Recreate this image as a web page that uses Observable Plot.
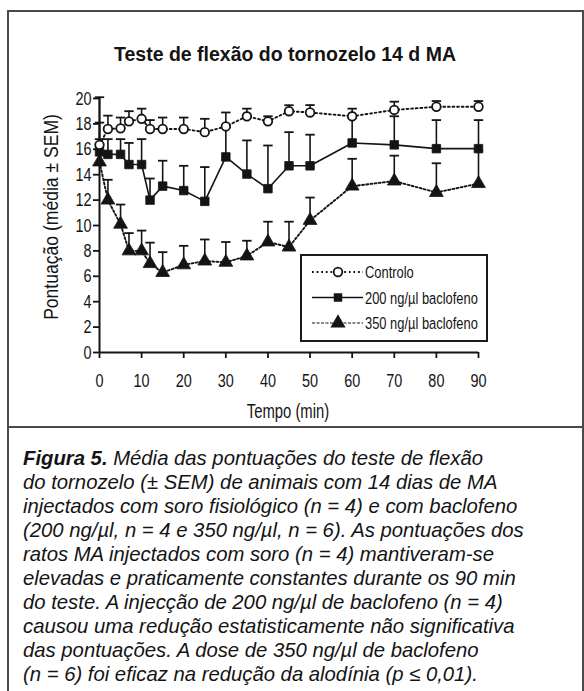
<!DOCTYPE html>
<html>
<head>
<meta charset="utf-8">
<script src="https://cdn.jsdelivr.net/npm/d3@7"></script>
<script src="https://cdn.jsdelivr.net/npm/@observablehq/plot@0.6"></script>
<style>
  body { margin: 0; background: #fff; }
  #page { position: relative; width: 584px; height: 691px; overflow: hidden; background: #fff; color: #141414; }
  .frame { position: absolute; left: 7px; top: 10px; width: 577px; height: 720px; border: 2px solid #4a4a4a; box-sizing: border-box; }
  .divider { position: absolute; left: 7px; top: 426px; width: 577px; height: 2px; background: #4a4a4a; }
  #title { position: absolute; left: 0; top: 42px; width: 570px; text-align: center; font: bold 19.5px "Liberation Sans", Arial, sans-serif; line-height: 24px; white-space: nowrap; }
  .narrow { font-family: "Liberation Sans", Arial, sans-serif; white-space: nowrap; }
  #ylabel { position: absolute; left: 51px; top: 217px; transform: translate(-50%, -50%) rotate(-90deg) scaleX(0.9); font-size: 19.5px; }
  #xlabel { position: absolute; left: 288px; top: 411px; transform: translate(-50%, -50%) scaleX(0.76); font-size: 19.5px; }
  #chart { position: absolute; left: 0; top: 0; }
  #legend { position: absolute; left: 300px; top: 254px; width: 188px; height: 88px; border: 2px solid #1a1a1a; box-sizing: border-box; background: #fff; }
  #legend svg { position: absolute; left: -2px; top: -2px; }
  #caption { position: absolute; left: 23px; top: 446px; font: italic 20.3px "Liberation Sans", Arial, sans-serif; line-height: 24px; white-space: nowrap; }
</style>
</head>
<body>
<div id="page">
  <div class="frame"></div>
  <div class="divider"></div>
  <div id="title">Teste de flexão do tornozelo 14 d MA</div>
  <div id="chart"></div>
  <div id="ylabel" class="narrow">Pontuação (média ± SEM)</div>
  <div id="xlabel" class="narrow">Tempo (min)</div>
  <div id="legend"></div>
  <div id="caption"><b>Figura 5.</b> Média das pontuações do teste de flexão<br>do tornozelo (± SEM) de animais com 14 dias de MA<br>injectados com soro fisiológico (n = 4) e com baclofeno<br>(200 ng/µl, n = 4 e 350 ng/µl, n = 6). As pontuações dos<br>ratos MA injectados com soro (n = 4) mantiveram-se<br>elevadas e praticamente constantes durante os 90 min<br>do teste. A injecção de 200 ng/µl de baclofeno (n = 4)<br>causou uma redução estatisticamente não significativa<br>das pontuações. A dose de 350 ng/µl de baclofeno<br>(n = 6) foi eficaz na redução da alodínia (p ≤ 0,01).</div>
</div>
<script>
// Time points (min) after injection
const tempos = [0, 2, 5, 7, 10, 12, 15, 20, 25, 30, 35, 40, 45, 50, 60, 70, 80, 90];

// Controlo (soro fisiológico): mean score and SEM
const controloMedia = [16.35, 17.6, 17.65, 18.2, 18.4, 17.6, 17.6, 17.6, 17.35, 17.8, 18.6, 18.2, 19.0, 18.9, 18.6, 19.1, 19.35, 19.35];
const controloSEM   = [3.75, 1.05, 0.85, 0.8, 0.8, 0.7, 0.9, 0.9, 1.05, 1.1, 0.6, 0.4, 0.47, 0.58, 0.6, 0.65, 0.45, 0.45];

// 200 ng/µl baclofeno
const bac200Media = [15.8, 15.6, 15.6, 14.8, 14.8, 12.0, 13.1, 12.75, 11.9, 15.4, 14.05, 12.9, 14.7, 14.7, 16.5, 16.35, 16.05, 16.05];
const bac200SEM   = [2.3, 1.2, 1.2, 1.7, 2.0, 1.7, 2.0, 1.95, 2.7, 2.4, 2.65, 3.4, 2.65, 2.45, 2.0, 2.25, 2.25, 2.25];

// 350 ng/µl baclofeno
const bac350Media = [15.0, 12.0, 10.1, 8.0, 8.0, 7.0, 6.3, 6.9, 7.2, 7.1, 7.6, 8.7, 8.3, 10.4, 13.1, 13.5, 12.6, 13.3];
const bac350SEM   = [1.8, 1.6, 1.55, 1.4, 1.6, 1.65, 1.6, 1.5, 1.7, 1.6, 1.2, 1.6, 2.0, 1.8, 2.15, 2.0, 2.3, 2.6];

// Axis ticks
const xTicks = [0, 10, 20, 30, 40, 50, 60, 70, 80, 90];
const yTicks = [0, 2, 4, 6, 8, 10, 12, 14, 16, 18, 20];

// Legend entries
const legendLabels = ["Controlo", "200 ng/µl baclofeno", "350 ng/µl baclofeno"];

const ink = "#141414";
const condense = 0.76; // horizontal squeeze giving a condensed sans look
const serie = (media, sem) => tempos.map((t, i) => ({t, media: media[i], topo: media[i] + sem[i]}));
const controlo = serie(controloMedia, controloSEM);
const bac200 = serie(bac200Media, bac200SEM);
const bac350 = serie(bac350Media, bac350SEM);

// Horizontal cap drawn at the top of each error bar
const cap = {
  draw(context, size) {
    const w = Math.sqrt(size / Math.PI);
    context.moveTo(-w, 0);
    context.lineTo(w, 0);
  }
};

const errorBars = (data) => [
  Plot.ruleX(data, {x: "t", y1: "media", y2: "topo", stroke: ink, strokeWidth: 1.6}),
  Plot.dot(data, {x: "t", y: "topo", symbol: cap, r: 4.7, fill: "none", stroke: ink, strokeWidth: 1.8})
];

const chart = Plot.plot({
  width: 584,
  height: 427,
  marginLeft: 99,
  marginRight: 106,
  marginTop: 98,
  marginBottom: 75,
  x: {domain: [0, 90]},
  y: {domain: [0, 20]},
  style: {fontFamily: "'Liberation Sans', Arial, sans-serif", fontSize: "19px", color: ink, background: "none", overflow: "visible"},
  marks: [
    ...errorBars(bac350),
    ...errorBars(bac200),
    ...errorBars(controlo),
    Plot.line(bac350, {x: "t", y: "media", stroke: ink, strokeWidth: 1.9, strokeDasharray: "2,2.2"}),
    Plot.line(bac200, {x: "t", y: "media", stroke: ink, strokeWidth: 1.6}),
    Plot.line(controlo, {x: "t", y: "media", stroke: ink, strokeWidth: 1.9, strokeDasharray: "1.8,2.8"}),
    Plot.ruleX([0], {y1: 0, y2: 20, stroke: ink, strokeWidth: 2}),
    Plot.ruleY([0], {x1: 0, x2: 90, stroke: ink, strokeWidth: 2}),
    Plot.axisY(yTicks, {tickSize: 6, tickPadding: 2, strokeWidth: 1.8, fontSize: 19, label: null}),
    Plot.axisX(xTicks, {tickSize: 6, tickPadding: 15, strokeWidth: 1.8, fontSize: 19, label: null}),
    Plot.dot(bac350, {x: "t", y: "media", symbol: "triangle", r: 5.1, fill: ink, stroke: ink, strokeWidth: 0.8}),
    Plot.dot(bac200, {x: "t", y: "media", symbol: "square", r: 4.8, fill: ink, stroke: ink, strokeWidth: 0.8}),
    Plot.dot(controlo, {x: "t", y: "media", r: 4.3, fill: "white", stroke: ink, strokeWidth: 1.8})
  ]
});

// Squeeze tick labels horizontally around their anchor point
chart.querySelectorAll('g[aria-label$="tick label"] text').forEach((el) => {
  const t = el.getAttribute("transform");
  if (t) {
    el.setAttribute("transform", `${t} scale(${condense},1)`);
  } else {
    const x = +el.getAttribute("x") || 0, y = +el.getAttribute("y") || 0;
    el.removeAttribute("x"); el.removeAttribute("y");
    el.setAttribute("transform", `translate(${x},${y}) scale(${condense},1)`);
  }
});
document.getElementById("chart").appendChild(chart);

// Legend: line style and marker sample for each series
const legend = d3.select("#legend").append("svg")
  .attr("width", 188).attr("height", 88)
  .style("font-family", "'Liberation Sans', Arial, sans-serif")
  .style("font-size", "17px");
const rows = [
  {dash: "1.8,2.8", width: 1.9, marker: "circle"},
  {dash: null, width: 1.6, marker: "square"},
  {dash: "3,1.5", width: 1.2, marker: "triangle"}
];
rows.forEach((row, i) => {
  const y = 18 + i * 25.5;
  const g = legend.append("g").attr("transform", `translate(0,${y})`);
  g.append("line").attr("x1", 12).attr("x2", 63).attr("y1", 0).attr("y2", 0)
    .attr("stroke", ink).attr("stroke-width", row.width).attr("stroke-dasharray", row.dash);
  if (row.marker === "circle") {
    g.append("circle").attr("cx", 38).attr("cy", 0).attr("r", 4.3).attr("fill", "white").attr("stroke", ink).attr("stroke-width", 1.8);
  } else if (row.marker === "square") {
    g.append("path").attr("transform", "translate(38,0)").attr("d", d3.symbol(d3.symbolSquare, 72)()).attr("fill", ink);
  } else {
    g.append("path").attr("transform", "translate(38,0)").attr("d", d3.symbol(d3.symbolTriangle, 100)()).attr("fill", ink);
  }
  g.append("text").attr("transform", `translate(65,0) scale(${condense},1)`).attr("dy", "0.36em").attr("fill", ink).text(legendLabels[i]);
});
</script>
</body>
</html>
